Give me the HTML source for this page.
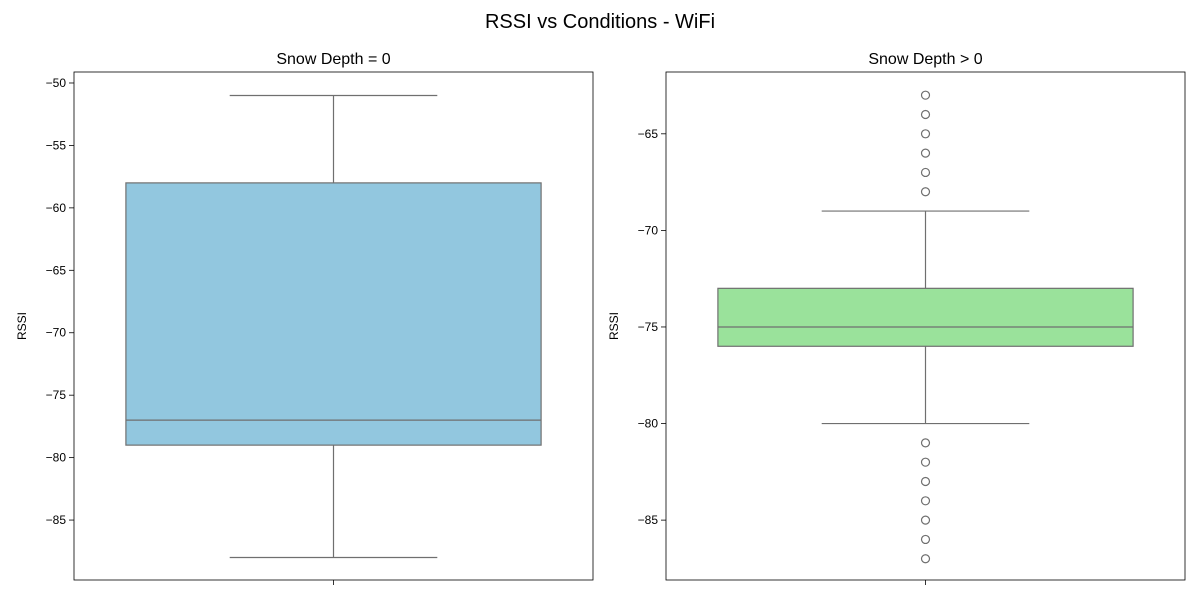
<!DOCTYPE html>
<html><head><meta charset="utf-8"><style>
body{margin:0;background:#fff;font-family:"Liberation Sans",sans-serif}
svg text{font-family:"Liberation Sans",sans-serif;fill:#000}
</style></head><body>
<svg id="chart" width="1200" height="600" xmlns="http://www.w3.org/2000/svg">
<text x="600" y="28" font-size="20" text-anchor="middle">RSSI vs Conditions - WiFi</text>
</svg>
<script>
const panelTitles = ["Snow Depth = 0", "Snow Depth > 0"];
const boxColors = ["#92c7df", "#9ae29b"];
const q1 = [-79, -76];
const q3 = [-58, -73];
const medians = [-77, -75];
const whiskerLow = [-88, -80];
const whiskerHigh = [-51, -69];
const outliers0 = [];
const outliers1 = [-63, -64, -65, -66, -67, -68, -81, -82, -83, -84, -85, -86, -87];
const ticks0 = [-50, -55, -60, -65, -70, -75, -80, -85];
const ticks1 = [-65, -70, -75, -80, -85];
const yDomains = [[-89.8, -49.12], [-88.1, -61.8]];

const svgEl = document.getElementById('chart');
const NS = 'http://www.w3.org/2000/svg';
function mk(tag, attrs, parent){const e=document.createElementNS(NS,tag);for(const k in attrs)e.setAttribute(k,attrs[k]);(parent||svgEl).appendChild(e);return e;}
const panels = [{x0:74,x1:593},{x0:666,x1:1185}];
const plotTop=72, plotBot=580;
const outs=[outliers0,outliers1], tks=[ticks0,ticks1];
panels.forEach((p,i)=>{
  const g=mk('g',{});
  
  
  const lo=yDomains[i][0], hi=yDomains[i][1];
  const y=v=>plotBot-(v-lo)/(hi-lo)*(plotBot-plotTop);
  const cx=(p.x0+p.x1)/2, bw=(p.x1-p.x0)*0.8, cw=bw/2;
  const t=mk('text',{x:cx,y:64,'font-size':16,'text-anchor':'middle'},g);t.textContent=panelTitles[i];
  
  
  tks[i].forEach(v=>{
    mk('line',{x1:p.x0-5,x2:p.x0,y1:y(v),y2:y(v),stroke:'#000','stroke-width':0.8},g);
    const l=mk('text',{x:p.x0-8,y:y(v)+4,'font-size':12,'text-anchor':'end'},g);l.textContent='\u2212'+Math.abs(v);
    
    
  });
  mk('line',{x1:cx,x2:cx,y1:plotBot,y2:plotBot+5,stroke:'#000','stroke-width':0.8},g);
  const yl=mk('text',{x:0,y:0,'font-size':12,'text-anchor':'middle',transform:'translate('+(p.x0-48)+','+((plotTop+plotBot)/2)+') rotate(-90)'},g);yl.textContent='RSSI';
  
  
  const sc='#6f6f6f';
  mk('line',{x1:cx,x2:cx,y1:y(whiskerHigh[i]),y2:y(q3[i]),stroke:sc,'stroke-width':1.2},g);
  mk('line',{x1:cx,x2:cx,y1:y(q1[i]),y2:y(whiskerLow[i]),stroke:sc,'stroke-width':1.2},g);
  [whiskerHigh[i],whiskerLow[i]].forEach(v=>mk('line',{x1:cx-cw/2,x2:cx+cw/2,y1:y(v),y2:y(v),stroke:sc,'stroke-width':1.2},g));
  const b=mk('rect',{x:cx-bw/2,y:y(q3[i]),width:bw,height:y(q1[i])-y(q3[i]),fill:boxColors[i],stroke:sc,'stroke-width':1.2},g);
  
  
  mk('line',{x1:cx-bw/2,x2:cx+bw/2,y1:y(medians[i]),y2:y(medians[i]),stroke:sc,'stroke-width':1.2},g);
  outs[i].forEach(v=>{
    const c=mk('circle',{cx:cx,cy:y(v),r:4,fill:'none',stroke:sc,'stroke-width':1.2},g);
    
    
  });
  mk('rect',{x:p.x0,y:plotTop,width:p.x1-p.x0,height:plotBot-plotTop,fill:'none',stroke:'#000','stroke-width':0.8},g);
});
</script>
</body></html>
